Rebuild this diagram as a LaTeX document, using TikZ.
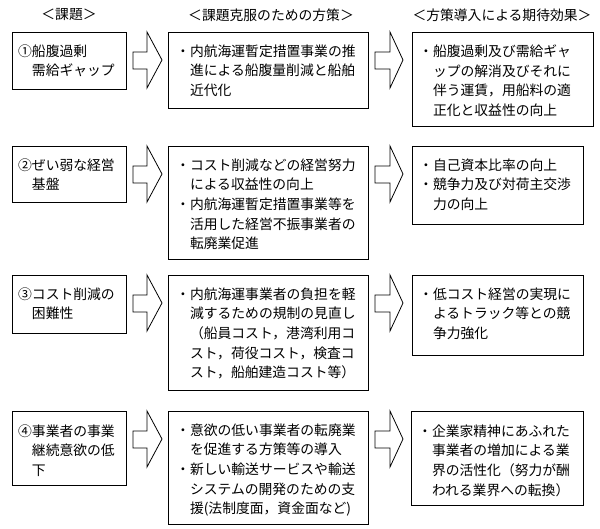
\documentclass[tikz,border=0pt]{standalone}
\usepackage{fontspec}
\newfontfamily\jpfont{Noto Sans CJK JP}
\newcommand\blkarrow[4]{%
  \draw[blk] (#1,#4+20) -- (#2,#4+20) -- (#2,#4) -- (#3,#4+28) -- (#2,#4+56) -- (#2,#4+37) -- (#1,#4+37) -- cycle;}
\newcommand\ind{\hspace*{1em}}
\begin{document}
\begin{tikzpicture}[x=1pt,y=-1pt,
  box/.style={draw, line width=0.8pt, fill=white, anchor=north west, inner sep=0pt},
  txt/.style={font=\jpfont\fontsize{13.8}{19.6}\selectfont, align=left, inner sep=0pt, anchor=north west},
  hdr/.style={font=\jpfont\fontsize{13.8}{16}\selectfont, inner sep=0pt},
  blk/.style={draw, line width=0.8pt, fill=white, line join=miter}]
\useasboundingbox[fill=white] (0,0) rectangle (600,529);

% headers
\node[hdr] (h1) at (69,15) {＜課題＞};
\node[hdr] (h2) at (271,15) {＜課題克服のための方策＞};
\node[hdr] (h3) at (502,15) {＜方策導入による期待効果＞};

% ---------- row 1 ----------
\node[box, minimum width=114pt, minimum height=57pt] (L1) at (12,32) {};
\node[box, minimum width=200pt, minimum height=76pt] (M1) at (168,32) {};
\node[box, minimum width=181pt, minimum height=94pt] (R1) at (412,32) {};
\node[txt] (tL1) at ([xshift=6pt,yshift=-12.5pt]L1.north west) {①船腹過剰\\\ind 需給ギャップ};
\node[txt] (tM1) at ([xshift=8pt,yshift=-12.5pt]M1.north west) {・内航海運暫定措置事業の推\\\ind 進による船腹量削減と船舶\\\ind 近代化};
\node[txt] (tR1) at ([xshift=7pt,yshift=-12.5pt]R1.north west) {・船腹過剰及び需給ギャ\\\ind ップの解消及びそれに\\\ind 伴う運賃，用船料の適\\\ind 正化と収益性の向上};
\blkarrow{133}{147}{162}{32}
\blkarrow{375}{390}{403}{32}

% ---------- row 2 ----------
\node[box, minimum width=114pt, minimum height=56pt] (L2) at (12,146) {};
\node[box, minimum width=200pt, minimum height=113pt] (M2) at (168,146) {};
\node[box, minimum width=171pt, minimum height=78pt] (R2) at (412,146) {};
\node[txt] (tL2) at ([xshift=6pt,yshift=-12.5pt]L2.north west) {②ぜい弱な経営\\\ind 基盤};
\node[txt] (tM2) at ([xshift=8pt,yshift=-12.5pt]M2.north west) {・コスト削減などの経営努力\\\ind による収益性の向上\\・内航海運暫定措置事業等を\\\ind 活用した経営不振事業者の\\\ind 転廃業促進};
\node[txt] (tR2) at ([xshift=7pt,yshift=-12.5pt]R2.north west) {・自己資本比率の向上\\・競争力及び対荷主交渉\\\ind 力の向上};
\blkarrow{133}{147}{162}{146}
\blkarrow{375}{390}{403}{146}

% ---------- row 3 ----------
\node[box, minimum width=114pt, minimum height=58pt] (L3) at (12,275) {};
\node[box, minimum width=200pt, minimum height=115pt] (M3) at (168,275) {};
\node[box, minimum width=171pt, minimum height=80pt] (R3) at (412,275) {};
\node[txt] (tL3) at ([xshift=6pt,yshift=-12.5pt]L3.north west) {③コスト削減の\\\ind 困難性};
\node[txt] (tM3) at ([xshift=8pt,yshift=-12.5pt]M3.north west) {・内航海運事業者の負担を軽\\\ind 減するための規制の見直し\\\ind （船員コスト，港湾利用コ\\\ind スト，荷役コスト，検査コ\\\ind スト，船舶建造コスト等）};
\node[txt] (tR3) at ([xshift=7pt,yshift=-12.5pt]R3.north west) {・低コスト経営の実現に\\\ind よるトラック等との競\\\ind 争力強化};
\blkarrow{133}{147}{162}{275}
\blkarrow{375}{390}{403}{275}

% ---------- row 4 ----------
\node[box, minimum width=114pt, minimum height=74pt] (L4) at (12,411) {};
\node[box, minimum width=200pt, minimum height=113pt] (M4) at (168,411) {};
\node[box, minimum width=172pt, minimum height=94pt] (R4) at (411,411) {};
\node[txt] (tL4) at ([xshift=6pt,yshift=-13.5pt]L4.north west) {④事業者の事業\\\ind 継続意欲の低\\\ind 下};
\node[txt] (tM4) at ([xshift=8pt,yshift=-12.5pt]M4.north west) {・意欲の低い事業者の転廃業\\\ind を促進する方策等の導入\\・新しい輸送サービスや輸送\\\ind システムの開発のための支\\\ind 援(法制度面，資金面など)};
\node[txt] (tR4) at ([xshift=7pt,yshift=-13.5pt]R4.north west) {・企業家精神にあふれた\\\ind 事業者の増加による業\\\ind 界の活性化（努力が酬\\\ind われる業界への転換）};
\blkarrow{133}{147}{162}{411}
\blkarrow{375}{390}{403}{411}
\end{tikzpicture}
\end{document}
